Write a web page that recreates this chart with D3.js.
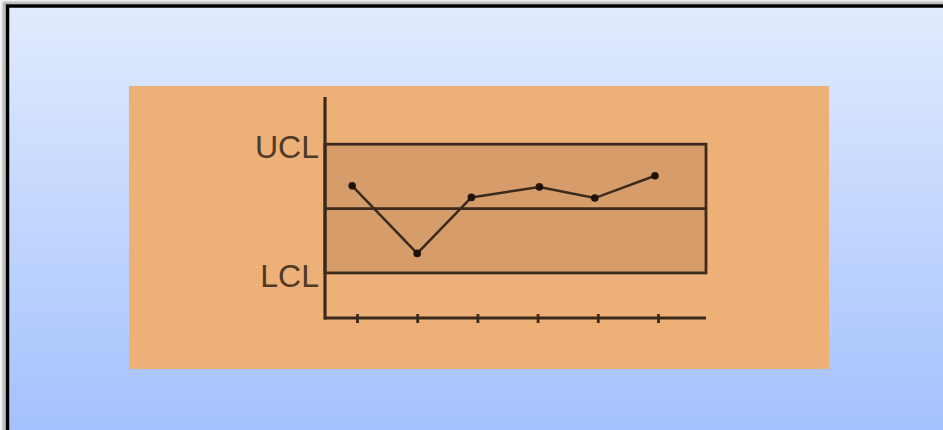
<!DOCTYPE html>
<html>
<head>
<meta charset="utf-8">
<script src="https://cdn.jsdelivr.net/npm/d3@7"></script>
<style>
  html, body { margin: 0; padding: 0; background: #fff; }
  svg { display: block; }
</style>
</head>
<body>
<svg id="chart" width="943" height="430"></svg>
<script>
// Control chart: six samples plotted between the lower and upper control limits
const samples = [0.92, 2.0, 2.9, 4.03, 4.95, 5.95];   // sample position along x
const values  = [1.06, -2.09, 0.52, 1.01, 0.49, 1.53]; // measured value (sigma units)
const tickPositions = [1, 2, 3, 4, 5, 6];
const limitNames  = ["UCL", "LCL"];
const limitValues = [3, -3];
const centerValue = 0;

const W = 943, H = 430;
const svg = d3.select("#chart");
const defs = svg.append("defs");

// page backdrop gradient
const bg = defs.append("linearGradient").attr("id", "bg")
  .attr("x1", 0).attr("y1", 0).attr("x2", 0).attr("y2", 1);
bg.append("stop").attr("offset", "0%").attr("stop-color", "#e1ebfd");
bg.append("stop").attr("offset", "100%").attr("stop-color", "#a3c1fe");

const sh = defs.append("filter").attr("id", "shadow")
  .attr("x", "-5%").attr("y", "-5%").attr("width", "110%").attr("height", "110%");
sh.append("feGaussianBlur").attr("stdDeviation", 1.2);

svg.append("rect").attr("width", W).attr("height", H).attr("fill", "#f4f4f4");
svg.append("rect").attr("x", 4).attr("y", 3).attr("width", W).attr("height", H)
  .attr("fill", "none").attr("stroke", "#999").attr("stroke-width", 2).attr("filter", "url(#shadow)");
svg.append("rect").attr("x", 7.5).attr("y", 6).attr("width", W).attr("height", H)
  .attr("fill", "url(#bg)").attr("stroke", "#000").attr("stroke-width", 3.5);

// orange panel
svg.append("rect").attr("x", 129).attr("y", 86).attr("width", 700).attr("height", 283)
  .attr("fill", "#edb077");

const x = d3.scaleLinear().domain([1, 6]).range([357, 658]);
const y = d3.scaleLinear().domain([-5.1, 5.2]).range([318, 97]);
const x0 = 325, x1 = 706;
const ink = "#3b2a1d";

// band between the control limits
svg.append("rect")
  .attr("x", x0).attr("y", y(limitValues[0]))
  .attr("width", x1 - x0).attr("height", y(limitValues[1]) - y(limitValues[0]))
  .attr("fill", "#d69c6a")
  .attr("stroke", ink).attr("stroke-width", 2.8);

// centre line
svg.append("line")
  .attr("x1", x0).attr("x2", x1)
  .attr("y1", y(centerValue)).attr("y2", y(centerValue))
  .attr("stroke", ink).attr("stroke-width", 2.8);

// x axis with ticks
const xAxis = d3.axisBottom(x).tickValues(tickPositions).tickFormat("").tickSize(0);
const gx = svg.append("g").attr("transform", `translate(0,${y(-5.1)})`).call(xAxis);
gx.select(".domain").remove();
gx.append("line").attr("x1", x0).attr("x2", x1).attr("y1", 0).attr("y2", 0)
  .attr("stroke", ink).attr("stroke-width", 3.2);
gx.selectAll(".tick").append("line")
  .attr("y1", -4).attr("y2", 5)
  .attr("stroke", ink).attr("stroke-width", 2.8);

// y axis
svg.append("line").attr("x1", x0).attr("x2", x0)
  .attr("y1", y(5.2)).attr("y2", y(-5.1) + 1.6)
  .attr("stroke", ink).attr("stroke-width", 3.2);

// limit labels
svg.selectAll("text.limit").data(limitNames).join("text")
  .attr("class", "limit")
  .attr("x", 319)
  .attr("y", (d, i) => y(limitValues[i]) + 14)
  .attr("text-anchor", "end")
  .attr("font-family", "Liberation Sans, Arial, sans-serif")
  .attr("font-size", 32)
  .attr("fill", "#4e3a28")
  .text(d => d);

// sample series
const pts = samples.map((s, i) => [x(s), y(values[i])]);
svg.append("path")
  .attr("d", d3.line()(pts))
  .attr("fill", "none").attr("stroke", ink).attr("stroke-width", 2.5);
svg.selectAll("circle.pt").data(pts).join("circle")
  .attr("class", "pt")
  .attr("cx", d => d[0]).attr("cy", d => d[1]).attr("r", 3.8)
  .attr("fill", "#1f140c");
</script>
</body>
</html>
